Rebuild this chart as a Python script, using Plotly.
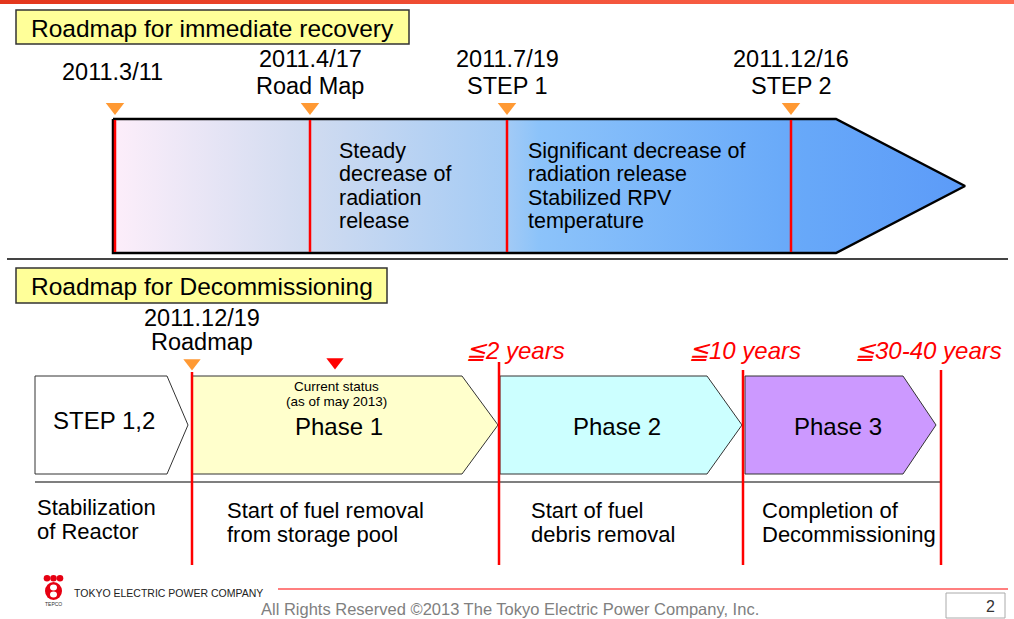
import plotly.graph_objects as go

# ---------------- data ----------------
recovery_title = "Roadmap for immediate recovery"
recovery_dates = ["2011.3/11", "2011.4/17", "2011.7/19", "2011.12/16"]
recovery_events = ["", "Road Map", "STEP 1", "STEP 2"]
recovery_notes = [
    [],
    ["Steady", "decrease of", "radiation", "release"],
    ["Significant decrease of", "radiation release", "Stabilized RPV", "temperature"],
    [],
]

decom_title = "Roadmap for Decommissioning"
decom_start_date = "2011.12/19"
decom_start_event = "Roadmap"
decom_phases = ["STEP 1,2", "Phase 1", "Phase 2", "Phase 3"]
decom_deadlines = ["", "≦2 years", "≦10 years", "≦30-40 years"]
decom_outcomes = [
    ["Stabilization", "of Reactor"],
    ["Start of fuel removal", "from storage pool"],
    ["Start of fuel", "debris removal"],
    ["Completion of", "Decommissioning"],
]
phase_colors = ["#ffffff", "#ffffcc", "#ccffff", "#cc99ff"]
current_status = ["Current status", "(as of may 2013)"]

footer_company = "TOKYO ELECTRIC POWER COMPANY"
footer_rights = "All Rights Reserved ©2013 The Tokyo Electric Power Company, Inc."
page_number = "2"

# ---------------- layout geometry (pixel canvas) ----------------
W, H = 1014, 619
rec_x = [115, 310, 507, 791]           # milestone positions on upper timeline
rec_top, rec_bot, rec_body_end, rec_tip = 119, 253, 836, 965
phase_left = [35, 192, 500, 745]
phase_tip = [188, 498, 742, 936]
phase_shoulder = [167, 462, 707, 903]
phase_top, phase_bot = 376, 474
decom_lines_x = [192, 499, 743, 941]
decom_lines_top = [372, 362, 370, 370]

FONT = "Liberation Sans, Arial, sans-serif"

fig = go.Figure()
shapes = []
ann = []


def text(x, y, s, size, color="#000000", xanchor="center", italic=False, family=FONT):
    ann.append(dict(x=x, y=y, text=s, showarrow=False, xanchor=xanchor, yanchor="middle",
                    font=dict(family=family, size=size, color=color,
                              style="italic" if italic else "normal")))


# top banner bar with gradient
fig.add_trace(go.Scatter(x=[0, W, W, 0, 0], y=[0, 0, 4, 4, 0], mode="lines", fill="toself",
                         line=dict(width=0),
                         fillgradient=dict(type="horizontal",
                                           colorscale=[[0, "#e3361c"], [1, "#ff6b52"]]),
                         hoverinfo="skip", showlegend=False))

# ---------------- upper section ----------------
shapes.append(dict(type="rect", x0=16, x1=409, y0=10, y1=44, fillcolor="#ffff99",
                   line=dict(color="#333333", width=1.5)))
text(212, 28, recovery_title, 24.5)

ax = [rec_x[0] - 2, rec_body_end, rec_tip, rec_body_end, rec_x[0] - 2, rec_x[0] - 2]
ay = [rec_top, rec_top, (rec_top + rec_bot) / 2, rec_bot, rec_bot, rec_top]
fig.add_trace(go.Scatter(x=ax, y=ay, mode="lines", fill="toself",
                         line=dict(color="#000000", width=2.5),
                         fillgradient=dict(type="horizontal", colorscale=[
                             [0, "#fdeefa"], [0.23, "#d0dbf0"], [0.46, "#a4cbf5"],
                             [0.5, "#8cc3fa"], [0.8, "#68a9f9"], [1, "#5c9bf8"]]),
                         hoverinfo="skip", showlegend=False))

for i, x in enumerate(rec_x):
    shapes.append(dict(type="line", x0=x, x1=x, y0=rec_top + 1, y1=rec_bot - 1,
                       line=dict(color="#ff0000", width=2.5)))
    if recovery_events[i]:
        text(x, 59, recovery_dates[i], 23.5)
        text(x, 86, recovery_events[i], 23.5)
    else:
        text(x - 3, 72, recovery_dates[i], 23.5)
    for j, line in enumerate(recovery_notes[i]):
        text(x + (27 if i == 1 else 19), 151 + j * 23.3, line, 21.5, xanchor="left")

fig.add_trace(go.Scatter(x=rec_x, y=[107] * 4, mode="markers",
                         marker=dict(symbol="triangle-down", size=16, color="#ff9933",
                                     line=dict(width=0)),
                         hoverinfo="skip", showlegend=False))

shapes.append(dict(type="line", x0=7, x1=1008, y0=259, y1=259,
                   line=dict(color="#444444", width=2)))

# ---------------- lower section ----------------
shapes.append(dict(type="rect", x0=16, x1=387, y0=268, y1=303, fillcolor="#ffff99",
                   line=dict(color="#333333", width=1.5)))
text(202, 286, decom_title, 24.5)
text(202, 318, decom_start_date, 23.5)
text(202, 342, decom_start_event, 23.5)

for i, name in enumerate(decom_phases):
    l, t, s = phase_left[i], phase_tip[i], phase_shoulder[i]
    mid = (phase_top + phase_bot) / 2
    shapes.append(dict(type="path",
                       path=f"M {l},{phase_top} L {s},{phase_top} L {t},{mid} L {s},{phase_bot} L {l},{phase_bot} Z",
                       fillcolor=phase_colors[i], line=dict(color="#333333", width=1)))
    cx = [104, 339, 617, 838][i]
    text(cx, 426 if i else 420, name, 24)
    ox = [35, 225, 529, 760][i]
    oy = [507, 510, 510, 510][i]
    for j, line in enumerate(decom_outcomes[i]):
        text(ox, oy + j * 24, line, 22, xanchor="left")

text(336, 386, current_status[0], 13.5)
text(336, 401, current_status[1], 13.5)

shapes.append(dict(type="line", x0=35, x1=940, y0=482, y1=482,
                   line=dict(color="#000000", width=1.2)))

for i, x in enumerate(decom_lines_x):
    shapes.append(dict(type="line", x0=x, x1=x, y0=decom_lines_top[i], y1=565,
                       line=dict(color="#ff0000", width=2.5)))

deadline_cx = [0, 515, 745, 928]
for i, d in enumerate(decom_deadlines):
    if d:
        text(deadline_cx[i], 350, d, 24, color="#ff0000", italic=True)

fig.add_trace(go.Scatter(x=[192], y=[363], mode="markers",
                         marker=dict(symbol="triangle-down", size=15, color="#ff9933",
                                     line=dict(width=0)),
                         hoverinfo="skip", showlegend=False))
fig.add_trace(go.Scatter(x=[335], y=[362], mode="markers",
                         marker=dict(symbol="triangle-down", size=15, color="#ff0000",
                                     line=dict(width=0)),
                         hoverinfo="skip", showlegend=False))

# ---------------- footer ----------------
for cx in [47, 53.5, 60]:
    shapes.append(dict(type="circle", x0=cx - 3.3, x1=cx + 3.3, y0=575, y1=581.5,
                       fillcolor="#e60012", line=dict(width=0)))
shapes.append(dict(type="circle", x0=45, x1=62, y0=582, y1=600,
                   fillcolor="#e60012", line=dict(width=0)))
shapes.append(dict(type="circle", x0=50, x1=57, y0=584.5, y1=590.5,
                   fillcolor="#ffffff", line=dict(width=0)))
shapes.append(dict(type="circle", x0=50, x1=57, y0=591.5, y1=597.5,
                   fillcolor="#ffffff", line=dict(width=0)))
text(53.5, 604, "TEPCO", 5, color="#333333")
text(72, 593, footer_company, 10.5, color="#222222", xanchor="left")

shapes.append(dict(type="line", x0=278, x1=1008, y0=589, y1=589,
                   line=dict(color="#ff0000", width=1.2)))
text(510, 609, footer_rights, 16.5, color="#808080")
shapes.append(dict(type="rect", x0=946, x1=1005, y0=593, y1=618, fillcolor="#ffffff",
                   line=dict(color="#aaaaaa", width=1)))
text(990, 606, page_number, 16, color="#333333")

fig.update_layout(
    width=W, height=H, margin=dict(l=0, r=0, t=0, b=0),
    paper_bgcolor="#ffffff", plot_bgcolor="#ffffff",
    xaxis=dict(range=[0, W], visible=False, fixedrange=True),
    yaxis=dict(range=[H, 0], visible=False, fixedrange=True),
    shapes=shapes, annotations=ann, showlegend=False,
)

fig.write_html("out.html", config={"displayModeBar": False},
               post_script="document.body.style.margin='0';document.body.style.overflow='hidden';")
